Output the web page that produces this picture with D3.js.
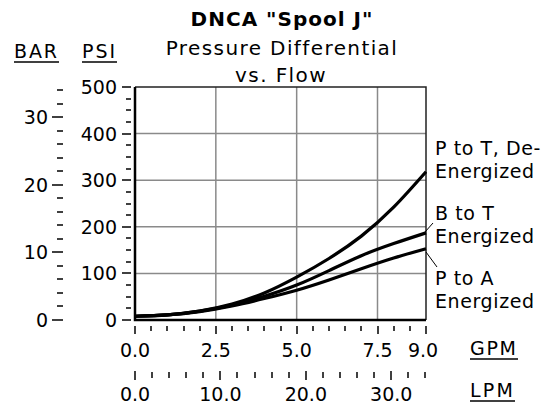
<!DOCTYPE html>
<html><head><meta charset="utf-8">
<script src="https://cdn.jsdelivr.net/npm/d3@7"></script>
<style>
body{margin:0;background:#fff;}
svg{display:block;font-family:"DejaVu Sans",Verdana,sans-serif;}
</style></head>
<body><svg id="c" width="551" height="406"></svg>
<script>
// ---- data ----
const gpm  = [0, 1, 2, 3, 4, 5, 6, 7, 8, 9];
const pToT = [8, 11, 19, 34, 58, 92, 132, 180, 242, 318];
const bToT = [8, 11, 19, 32, 51, 75, 106, 138, 164, 187];
const pToA = [8, 11, 18, 30, 46, 64, 86, 110, 133, 153];
const seriesNames = [["P to T, De-", "Energized"], ["B to T", "Energized"], ["P to A", "Energized"]];
const psiTicks = [0, 100, 200, 300, 400, 500];
const barTicks = [0, 10, 20, 30];
const gpmTicks = [0, 2.5, 5, 7.5, 9];
const lpmTicks = [0, 10, 20, 30];
const titleLines = ['DNCA "Spool J"', "Pressure Differential", "vs. Flow"];

const PSI_PER_BAR = 14.5038, LPM_PER_GPM = 3.78541;

const svg = d3.select("#c");
const L = 135, R = 426, T = 87, B = 320;
const x = d3.scaleLinear().domain([0, 9]).range([L, R]);
const y = d3.scaleLinear().domain([0, 500]).range([B, T]);
const yBar = d3.scaleLinear().domain([0, 500 / PSI_PER_BAR]).range([B, T]);
const xL = d3.scaleLinear().domain([0, 9 * LPM_PER_GPM]).range([L, R]);

// titles
svg.append("text").attr("x", 282).attr("y", 26).attr("text-anchor", "middle")
  .attr("font-size", 20).attr("font-weight", "bold").attr("letter-spacing", 1)
  .text(titleLines[0]);
svg.append("text").attr("x", 282).attr("y", 55).attr("text-anchor", "middle")
  .attr("font-size", 20).attr("letter-spacing", 1.4).text(titleLines[1]);
svg.append("text").attr("x", 281).attr("y", 82).attr("text-anchor", "middle")
  .attr("font-size", 20).attr("letter-spacing", 1.4).text(titleLines[2]);

// unit labels with underline
function unit(txt, xs, xe, yb) {
  svg.append("text").attr("x", xs).attr("y", yb).attr("font-size", 19)
    .attr("letter-spacing", 2).attr("textLength", xe - xs).text(txt);
  svg.append("line").attr("x1", xs).attr("x2", xe).attr("y1", yb + 4).attr("y2", yb + 4)
    .attr("stroke", "#000").attr("stroke-width", 1.5);
}
unit("BAR", 14, 59, 58);
unit("PSI", 82, 117, 58);
unit("GPM", 470, 518, 355);
unit("LPM", 470, 515, 397);

// grid
const g = svg.append("g");
g.selectAll(".hg").data(psiTicks.filter(d => d > 0 && d < 500)).join("line")
  .attr("x1", L).attr("x2", R).attr("y1", d => y(d)).attr("y2", d => y(d))
  .attr("stroke", "#8a8a8a").attr("stroke-width", 1.5);
g.selectAll(".vg").data(gpmTicks.filter(d => d > 0 && d < 9)).join("line")
  .attr("y1", T).attr("y2", B).attr("x1", d => x(d)).attr("x2", d => x(d))
  .attr("stroke", "#8a8a8a").attr("stroke-width", 1.5);

// frame
svg.append("path").attr("d", `M${L},${T}H${R}V${B}`).attr("fill", "none")
  .attr("stroke", "#222").attr("stroke-width", 1.5);

// curves
const line = d3.line().x((d, i) => x(gpm[i])).y(d => y(d)).curve(d3.curveNatural);
[pToT, bToT, pToA].forEach(s => {
  svg.append("path").attr("d", line(s)).attr("fill", "none")
    .attr("stroke", "#000").attr("stroke-width", 3.2).attr("stroke-linejoin", "round");
});

// axes lines (left and bottom)
svg.append("path").attr("d", `M${L},${T}V${B}H${R}`).attr("fill", "none")
  .attr("stroke", "#000").attr("stroke-width", 2.5);

// PSI ticks
const psiMinor = d3.range(0, 501, 25);
svg.selectAll(".pt").data(psiMinor).join("line")
  .attr("x1", d => psiTicks.includes(d) ? 122 : 126).attr("x2", 131)
  .attr("y1", d => Math.round(y(d))).attr("y2", d => Math.round(y(d)))
  .attr("stroke", "#000").attr("stroke-width", 1.5);
svg.selectAll(".pl").data(psiTicks).join("text")
  .attr("x", 117).attr("y", d => y(d) + 7).attr("text-anchor", "end")
  .attr("font-size", 19).text(d => d);

// BAR ticks
const barMinor = d3.range(0, 35, 2);
svg.selectAll(".bt").data(barMinor).join("line")
  .attr("x1", d => barTicks.includes(d) ? 52 : 57).attr("x2", 63)
  .attr("y1", d => Math.round(yBar(d))).attr("y2", d => Math.round(yBar(d)))
  .attr("stroke", "#000").attr("stroke-width", 1.5);
svg.selectAll(".bl").data(barTicks).join("text")
  .attr("x", 48).attr("y", d => yBar(d) + 7).attr("text-anchor", "end")
  .attr("font-size", 19).text(d => d);

// GPM ticks
const gpmMinor = d3.range(0, 9.01, 0.5);
svg.selectAll(".gt").data(gpmMinor).join("line")
  .attr("x1", d => Math.round(x(d))).attr("x2", d => Math.round(x(d)))
  .attr("y1", 326).attr("y2", d => gpmTicks.includes(d) ? 334 : 331)
  .attr("stroke", "#000").attr("stroke-width", 1.5);
svg.selectAll(".gl").data(gpmTicks).join("text")
  .attr("x", d => x(d) - (d === 9 ? 3 : 0)).attr("y", 357).attr("text-anchor", "middle")
  .attr("font-size", 19).text(d => d.toFixed(1));

// LPM ticks
const lpmMinor = d3.range(0, 34.01, 2);
svg.selectAll(".lt").data(lpmMinor).join("line")
  .attr("x1", d => Math.round(xL(d))).attr("x2", d => Math.round(xL(d)))
  .attr("y1", d => lpmTicks.includes(d) ? 371 : 372).attr("y2", d => lpmTicks.includes(d) ? 380 : 378)
  .attr("stroke", "#000").attr("stroke-width", 1.5);
svg.selectAll(".ll").data(lpmTicks).join("text")
  .attr("x", d => xL(d)).attr("y", 401).attr("text-anchor", "middle")
  .attr("font-size", 19).text(d => d.toFixed(1));

// series labels
const labelPos = [[155, 178], [220, 243], [285, 308]];
seriesNames.forEach((nm, i) => {
  nm.forEach((t, j) => {
    svg.append("text").attr("x", 435).attr("y", labelPos[i][j])
      .attr("font-size", 19).attr("letter-spacing", 0.6).text(t);
  });
});
// leader lines
svg.append("line").attr("x1", 425).attr("y1", 232).attr("x2", 433).attr("y2", 223)
  .attr("stroke", "#000").attr("stroke-width", 1);
svg.append("line").attr("x1", 426).attr("y1", 252).attr("x2", 437).attr("y2", 267)
  .attr("stroke", "#000").attr("stroke-width", 1);
</script></body></html>
